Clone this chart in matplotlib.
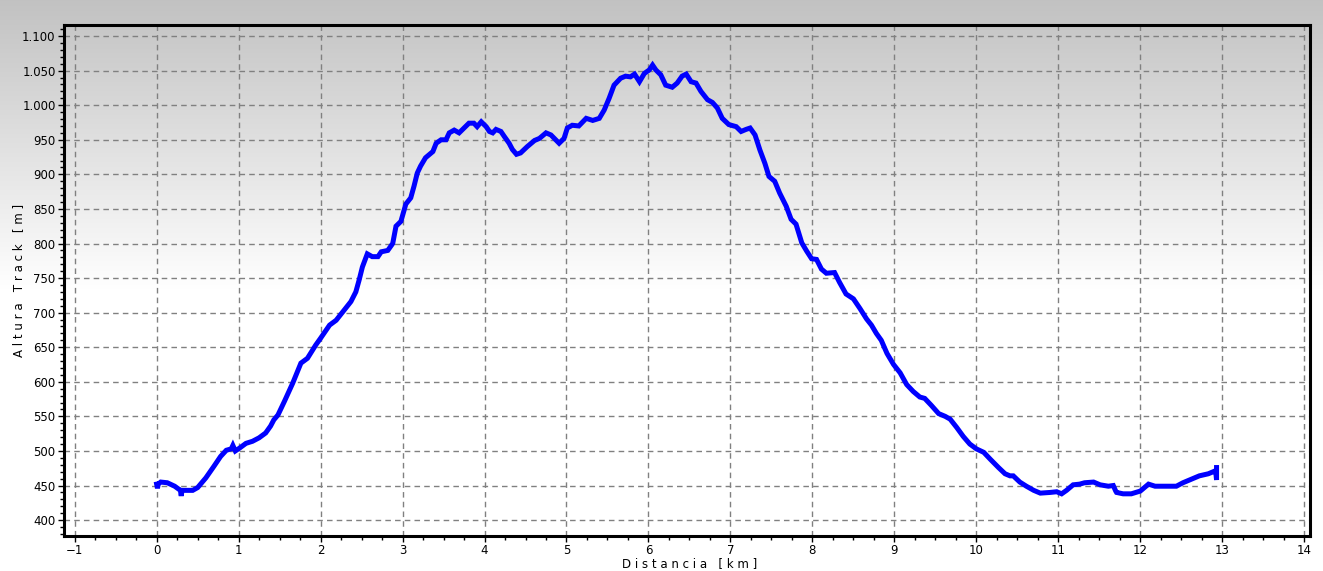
import numpy as np
import matplotlib
matplotlib.use("Agg")
import matplotlib.pyplot as plt
from matplotlib.ticker import MultipleLocator, FuncFormatter

# elevation profile (distance km, altitude m)
dist_km = [0.0, 0.01, 0.02, 0.05, 0.13, 0.22, 0.29, 0.30, 0.31, 0.36, 0.44, 0.50,
           0.60, 0.70, 0.78, 0.85, 0.91, 0.93, 0.96, 1.01, 1.09, 1.17, 1.25, 1.33,
           1.39, 1.43, 1.48, 1.56, 1.66, 1.76, 1.84, 1.94, 2.0, 2.11, 2.19, 2.29,
           2.37, 2.43, 2.47, 2.51, 2.57, 2.63, 2.70, 2.74, 2.82, 2.88, 2.92, 2.98,
           3.04, 3.10, 3.14, 3.18, 3.22, 3.28, 3.37, 3.41, 3.47, 3.53, 3.57, 3.63,
           3.69, 3.75, 3.81, 3.87, 3.91, 3.96, 4.02, 4.06, 4.10, 4.14, 4.20, 4.24,
           4.30, 4.34, 4.39, 4.44, 4.52, 4.61, 4.67, 4.75, 4.81, 4.91, 4.97, 5.01,
           5.07, 5.15, 5.24, 5.32, 5.40, 5.46, 5.52, 5.58, 5.66, 5.72, 5.78, 5.83,
           5.89, 5.95, 6.01, 6.05, 6.09, 6.15, 6.21, 6.29, 6.35, 6.41, 6.46, 6.52,
           6.58, 6.64, 6.72, 6.78, 6.84, 6.90, 6.98, 7.07, 7.13, 7.19, 7.24, 7.30,
           7.36, 7.42, 7.47, 7.54, 7.60, 7.68, 7.74, 7.80, 7.87, 7.93, 7.99, 8.05,
           8.11, 8.17, 8.27, 8.33, 8.41, 8.50, 8.58, 8.66, 8.72, 8.78, 8.84, 8.91,
           8.99, 9.07, 9.15, 9.23, 9.31, 9.37, 9.45, 9.54, 9.62, 9.68, 9.76, 9.84,
           9.92, 10.0, 10.09, 10.17, 10.27, 10.35, 10.41, 10.45, 10.53, 10.61, 10.70,
           10.78, 10.90, 10.98, 11.04, 11.10, 11.18, 11.26, 11.32, 11.43, 11.51,
           11.61, 11.67, 11.70, 11.71, 11.79, 11.89, 12.0, 12.10, 12.18, 12.32,
           12.44, 12.52, 12.62, 12.72, 12.83, 12.91, 12.92, 12.93, 12.93]
alt_m = [452, 446, 452, 455, 454, 449, 443, 435, 443, 443, 443, 447,
         461, 478, 492, 501, 503, 508, 500, 504, 511, 514, 519, 526,
         536, 545, 552, 572, 598, 627, 634, 653, 663, 682, 689, 704,
         716, 730, 747, 766, 785, 781, 781, 788, 790, 800, 825, 832,
         857, 866, 883, 902, 912, 924, 933, 945, 950, 950, 960, 964,
         960, 967, 974, 974, 969, 976, 969, 962, 960, 965, 962, 955,
         945, 936, 929, 931, 940, 949, 952, 960, 957, 945, 952, 967,
         971, 970, 981, 978, 981, 993, 1010, 1029, 1039, 1042, 1041, 1045,
         1034, 1046, 1051, 1058, 1051, 1044, 1029, 1026, 1032, 1042, 1045, 1034,
         1032, 1020, 1008, 1004, 996, 981, 972, 969, 962, 965, 967, 957,
         935, 916, 897, 890, 873, 854, 835, 828, 801, 789, 778, 777,
         763, 757, 758, 744, 727, 720, 706, 691, 682, 670, 660, 641,
         625, 613, 596, 586, 578, 576, 566, 554, 550, 546, 534, 521,
         510, 503, 498, 488, 476, 467, 464, 464, 455, 449, 443,
         439, 440, 441, 438, 443, 451, 452, 454, 455, 451,
         449, 450, 442, 440, 438, 438, 442, 452, 449, 449,
         449, 454, 459, 464, 467, 471, 470, 458, 476]

x_ticks = list(range(-1, 15))
y_ticks = list(range(400, 1101, 50))

fig = plt.figure(figsize=(13.23, 5.71), dpi=100)

# grey-to-white gradient behind everything
bg = fig.add_axes([0, 0, 1, 1], zorder=-1)
h = 571
grad = np.ones((h, 1))
top_part = 290
grad[:top_part, 0] = np.linspace(0.76, 1.0, top_part)
bg.imshow(np.dstack([grad, grad, grad]), aspect="auto", extent=[0, 1, 0, 1])
bg.axis("off")

ax = fig.add_axes([64 / 1323, 35 / 571, (1310 - 64) / 1323, (536 - 25) / 571])
ax.set_facecolor("none")

ax.plot(dist_km, alt_m, color="#0000ff", lw=3.6, solid_joinstyle="miter", zorder=3)

ax.set_xlim(-1.13, 14.07)
ax.set_ylim(377, 1116)
ax.set_xticks(x_ticks)
ax.set_yticks(y_ticks)
ax.xaxis.set_minor_locator(MultipleLocator(0.25))
ax.yaxis.set_minor_locator(MultipleLocator(10))
ax.yaxis.set_major_formatter(FuncFormatter(lambda v, p: f"{int(v):,}".replace(",", ".")))

ax.grid(True, which="major", color="#808080", linestyle=(0, (4, 3)), linewidth=1)
ax.tick_params(which="major", length=4, width=1, labelsize=8.5, pad=2)
ax.tick_params(which="minor", length=3, width=1)
for s in ax.spines.values():
    s.set_linewidth(2.2)
    s.set_color("black")

ax.set_xlabel("D i s t a n c i a   [ k m ]", fontsize=8.5)
ax.set_ylabel("A l t u r a   T r a c k   [ m ]", fontsize=8.5)
ax.xaxis.set_label_coords(0.502, -0.042)
ax.yaxis.set_label_coords(-0.031, 0.5)

fig.savefig("out.png", dpi=100)
